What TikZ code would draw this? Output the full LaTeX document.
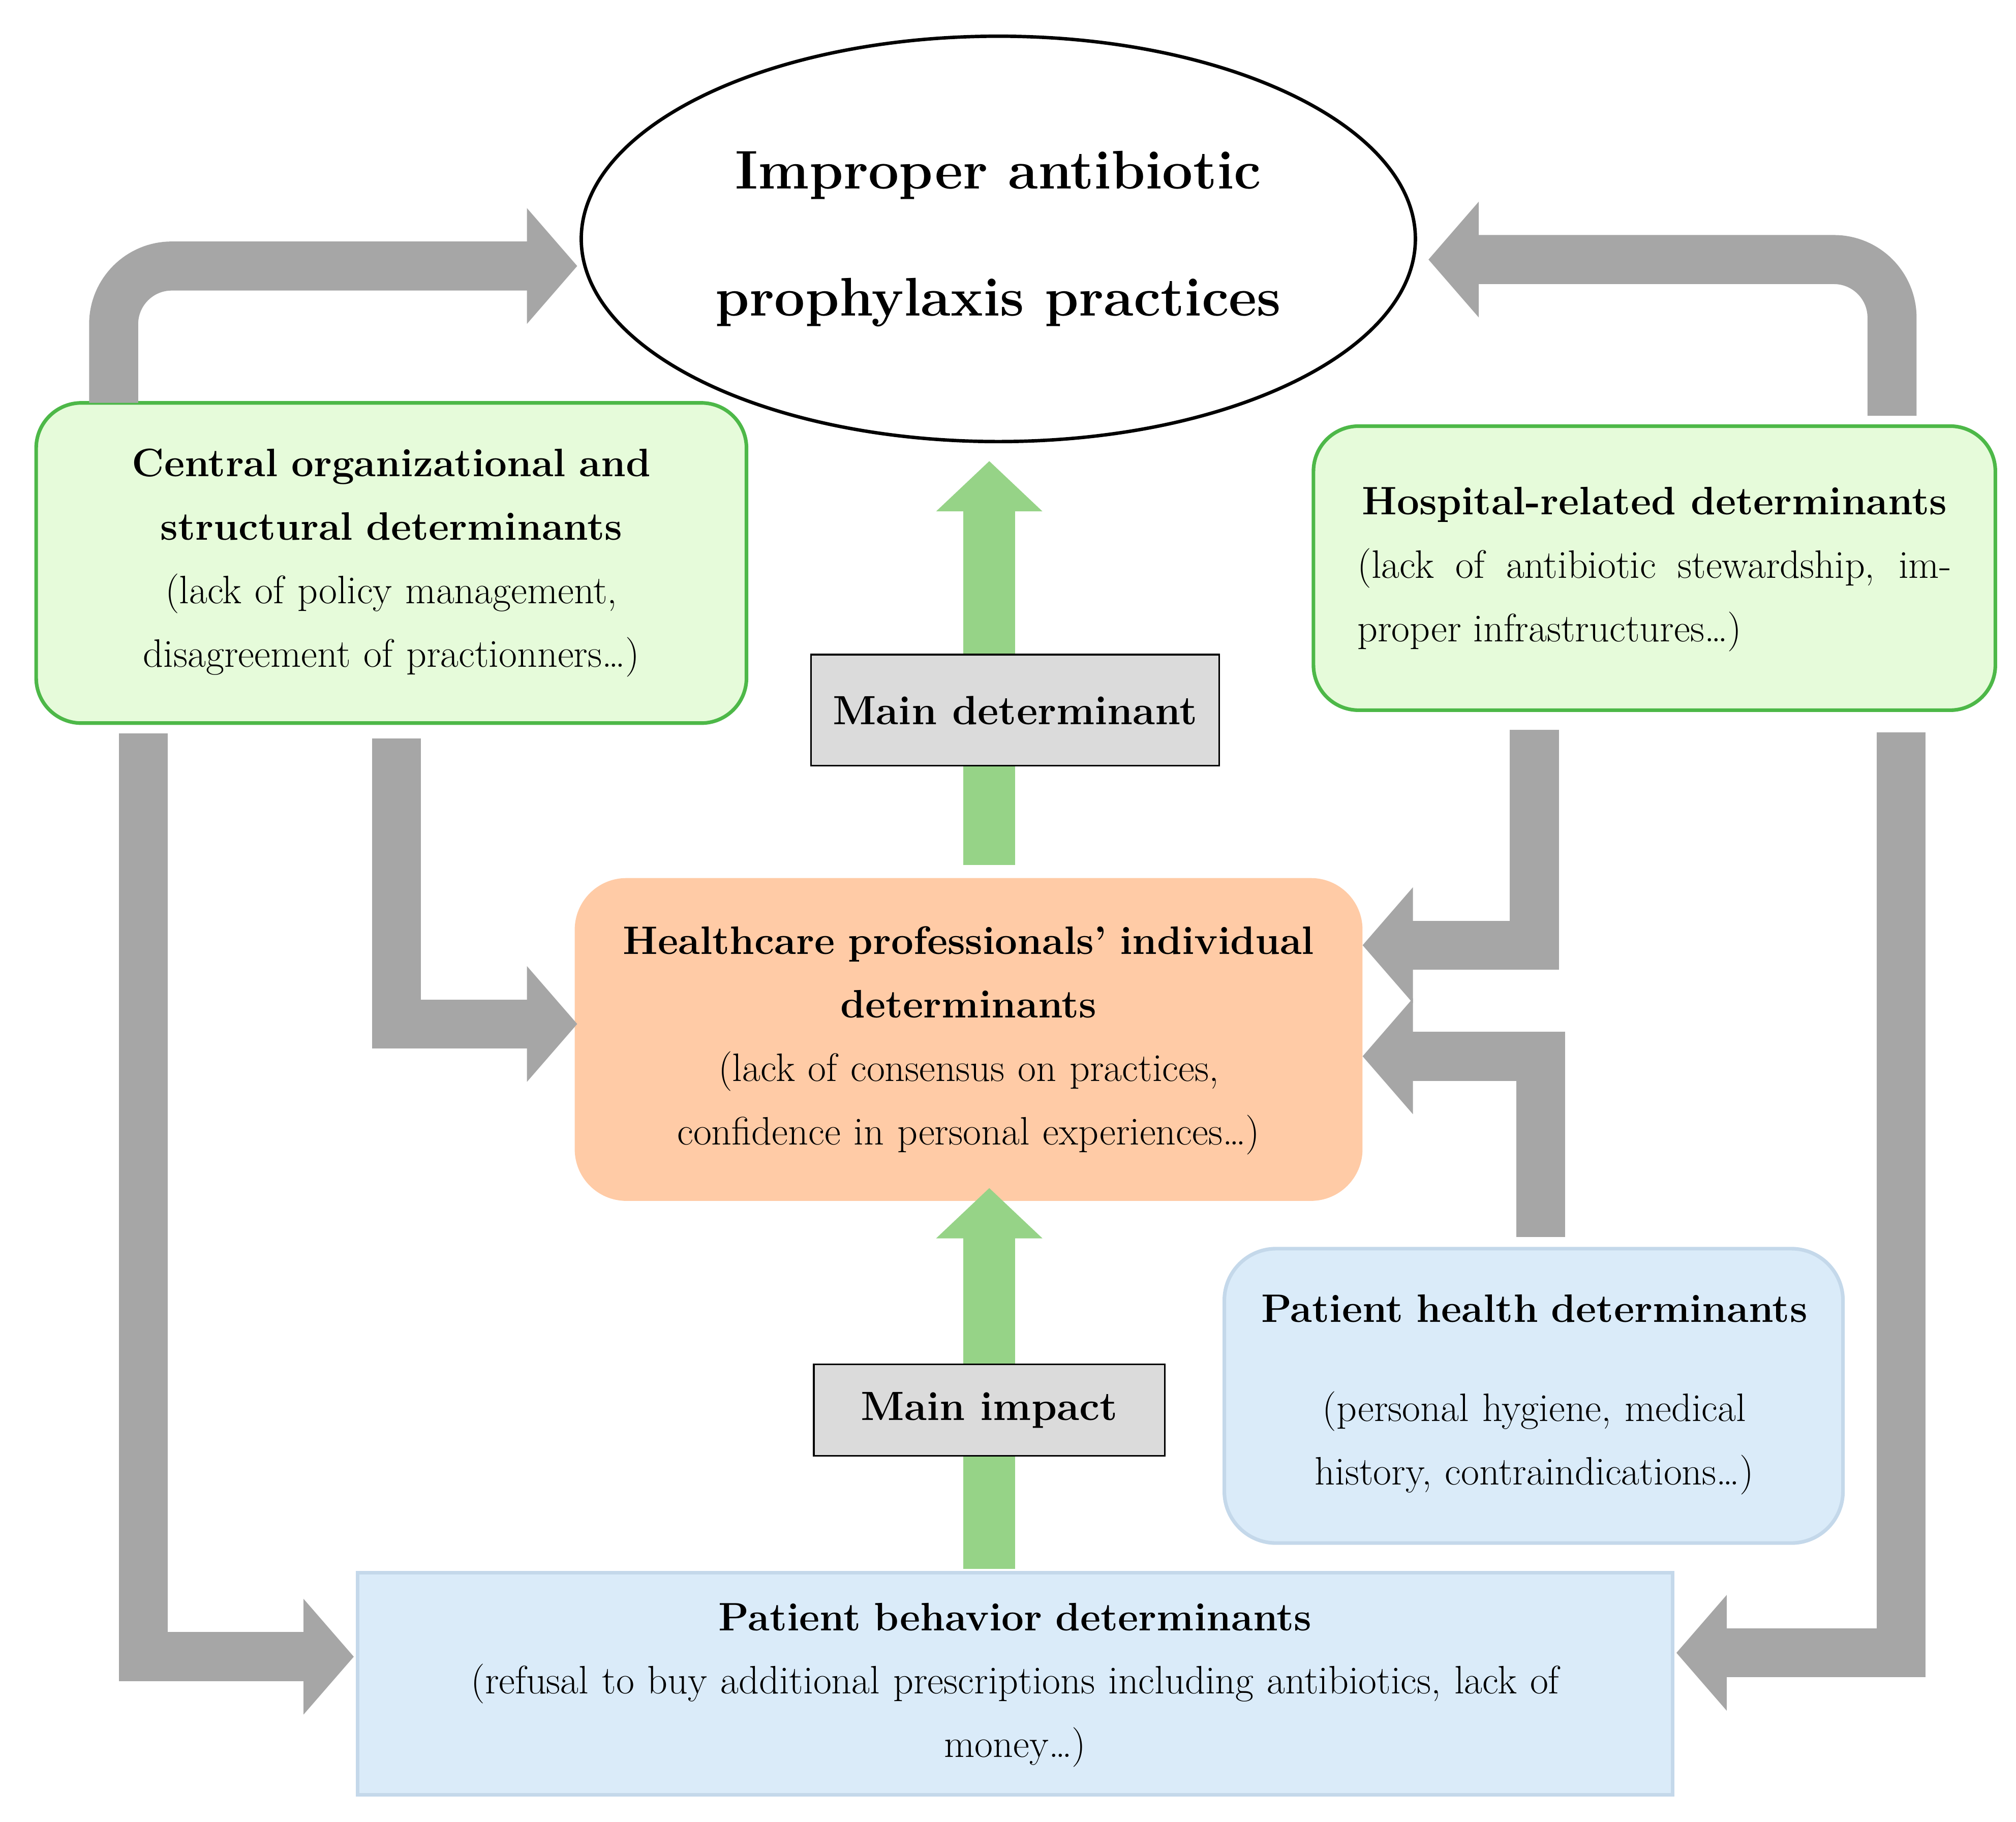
\documentclass[tikz,border=0pt]{standalone}
\usetikzlibrary{arrows.meta,shapes.geometric}
\definecolor{gfill}{HTML}{E6FBDA}
\definecolor{gline}{HTML}{4DB848}
\definecolor{ofill}{HTML}{FFCBA6}
\definecolor{bfill}{HTML}{DAEBF9}
\definecolor{bline}{HTML}{C4D8EA}
\definecolor{garr}{HTML}{A6A6A6}
\definecolor{marr}{HTML}{96D387}
\begin{document}
\begin{tikzpicture}[x=0.02cm,y=-0.02cm,
  txt/.style={font=\fontsize{17.5}{28}\selectfont,align=center},
  box/.style={txt,inner sep=0pt},
  gray arrow/.style={draw=garr,line width=0.76cm,
    -{Triangle[width=1.75cm,length=0.78cm]}},
  green arrow/.style={draw=marr,line width=0.8cm,
    -{Triangle[width=1.6cm,length=0.78cm]}},
  label box/.style={draw=black,fill=black!14,line width=0.8pt,
    font=\fontsize{18}{22}\selectfont\bfseries}]
\useasboundingbox (0,0) rectangle (1561,1411);

% boxes
\draw[fill=gfill,draw=gline,line width=1.6pt,rounded corners=0.7cm]
  (28,312) rectangle (578,560);
\node[box,text width=10.5cm] (cent) at (303,436)
  {\textbf{Central organizational and}\\\textbf{structural determinants}\\(lack of policy management,\\disagreement of practionners\ldots)};
\draw[fill=gfill,draw=gline,line width=1.6pt,rounded corners=0.7cm]
  (1017,330) rectangle (1545,550);
\node[box,text width=9.2cm,align=justify] (hosp) at (1281,441)
  {\centering\textbf{Hospital-related determinants}\par
   (lack of antibiotic stewardship, improper infrastructures\ldots)};
\draw[fill=ofill,draw=none,rounded corners=0.8cm]
  (445,680) rectangle (1055,930);
\node[box,text width=11.5cm] (hcp) at (750,806)
  {\textbf{Healthcare professionals' individual}\\\textbf{determinants}\\(lack of consensus on practices,\\confidence in personal experiences\ldots)};
\draw[fill=bfill,draw=bline,line width=1.6pt,rounded corners=0.8cm]
  (948,967) rectangle (1427,1195);
\node[box,text width=9cm] (phd) at (1188,1080)
  {\textbf{Patient health determinants}\\[0.55cm](personal hygiene, medical\\history, contraindications\ldots)};
\draw[fill=bfill,draw=bline,line width=1.6pt] (277,1218) rectangle (1295,1390);
\node[box,text width=19.5cm] (pbd) at (786,1305)
  {\textbf{Patient behavior determinants}\\(refusal to buy additional prescriptions including antibiotics, lack of\\money\ldots)};

% ellipse
\node[draw=black,line width=1.5pt,ellipse,minimum width=12.92cm,minimum height=6.28cm,
  inner sep=0pt,align=center,font=\fontsize{24}{56}\selectfont\bfseries] (ell) at (773,185)
  {Improper antibiotic\\prophylaxis practices};

% green arrows with labels
\coordinate (g1s) at (766,670);
\coordinate (g1e) at (766,357);
\coordinate (g2s) at (766,1215);
\coordinate (g2e) at (766,920);
\draw[green arrow] (g1s) -- (g1e);
\draw[green arrow] (g2s) -- (g2e);
\node[label box,minimum width=6.32cm,minimum height=1.72cm] (md) at (786,550) {Main determinant};
\node[label box,minimum width=5.44cm,minimum height=1.42cm] (mi) at (766,1092) {Main impact};

% gray arrows
\draw[gray arrow,rounded corners=0.9cm] (88,312) -- (88,206) -- (447,206);
\draw[gray arrow,rounded corners=0.9cm] (1465,322) -- (1465,201) -- (1106,201);
\draw[gray arrow] (111,568) -- (111,1283) -- (274,1283);
\draw[gray arrow] (307,572) -- (307,793) -- (447,793);
\draw[gray arrow] (1188,565) -- (1188,732) -- (1055,732);
\draw[gray arrow] (1193,958) -- (1193,818) -- (1055,818);
\draw[gray arrow] (1472,567) -- (1472,1280) -- (1298,1280);
\end{tikzpicture}
\end{document}
